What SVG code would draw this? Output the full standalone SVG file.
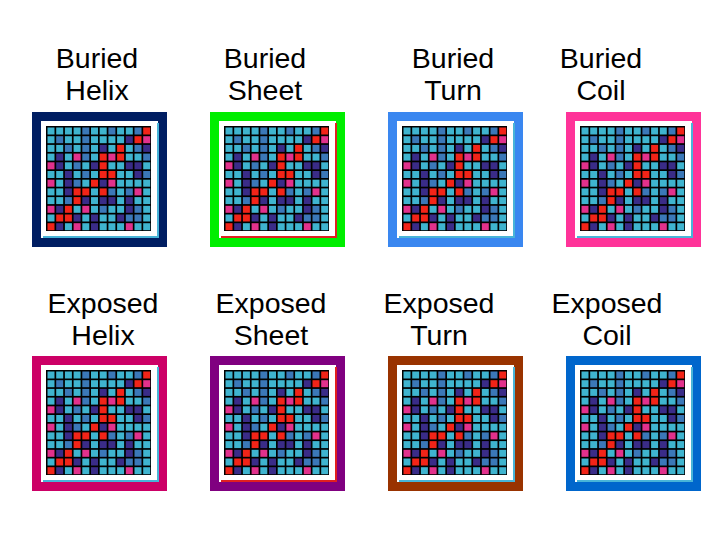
<svg xmlns="http://www.w3.org/2000/svg" xmlns:xlink="http://www.w3.org/1999/xlink" width="720" height="540" viewBox="0 0 720 540">
<style>
text{font-family:"Liberation Sans",Arial,sans-serif;font-size:28.5px;text-anchor:middle;fill:#000}
.c{fill:#3fb4cf}.b{fill:#3b78b8}.n{fill:#3a2c88}.r{fill:#f22418}.m{fill:#e2318c}
</style>
<rect width="720" height="540" fill="#fff"/>
<defs>
<g id="panel">
<rect x="9" y="9" width="117" height="117" fill="#fff"/>
<g transform="translate(14,14)">
<rect width="105" height="105" fill="#000"/>
<g transform="translate(1.5,1.5)">
<rect class="c" x="0" y="0" width="7" height="7"/><rect class="c" x="8.7" y="0" width="7" height="7"/><rect class="c" x="17.4" y="0" width="7" height="7"/><rect class="c" x="26.1" y="0" width="7" height="7"/><rect class="b" x="34.8" y="0" width="7" height="7"/><rect class="c" x="43.5" y="0" width="7" height="7"/><rect class="c" x="52.2" y="0" width="7" height="7"/><rect class="b" x="60.9" y="0" width="7" height="7"/><rect class="c" x="69.6" y="0" width="7" height="7"/><rect class="c" x="78.3" y="0" width="7" height="7"/><rect class="b" x="87" y="0" width="7" height="7"/><rect class="r" x="95.7" y="0" width="7" height="7"/>
<rect class="c" x="0" y="8.7" width="7" height="7"/><rect class="b" x="8.7" y="8.7" width="7" height="7"/><rect class="c" x="17.4" y="8.7" width="7" height="7"/><rect class="c" x="26.1" y="8.7" width="7" height="7"/><rect class="b" x="34.8" y="8.7" width="7" height="7"/><rect class="c" x="43.5" y="8.7" width="7" height="7"/><rect class="c" x="52.2" y="8.7" width="7" height="7"/><rect class="c" x="60.9" y="8.7" width="7" height="7"/><rect class="c" x="69.6" y="8.7" width="7" height="7"/><rect class="n" x="78.3" y="8.7" width="7" height="7"/><rect class="r" x="87" y="8.7" width="7" height="7"/><rect class="m" x="95.7" y="8.7" width="7" height="7"/>
<rect class="c" x="0" y="17.4" width="7" height="7"/><rect class="c" x="8.7" y="17.4" width="7" height="7"/><rect class="b" x="17.4" y="17.4" width="7" height="7"/><rect class="c" x="26.1" y="17.4" width="7" height="7"/><rect class="b" x="34.8" y="17.4" width="7" height="7"/><rect class="c" x="43.5" y="17.4" width="7" height="7"/><rect class="n" x="52.2" y="17.4" width="7" height="7"/><rect class="c" x="60.9" y="17.4" width="7" height="7"/><rect class="r" x="69.6" y="17.4" width="7" height="7"/><rect class="c" x="78.3" y="17.4" width="7" height="7"/><rect class="b" x="87" y="17.4" width="7" height="7"/><rect class="n" x="95.7" y="17.4" width="7" height="7"/>
<rect class="c" x="0" y="26.1" width="7" height="7"/><rect class="n" x="8.7" y="26.1" width="7" height="7"/><rect class="c" x="17.4" y="26.1" width="7" height="7"/><rect class="m" x="26.1" y="26.1" width="7" height="7"/><rect class="b" x="34.8" y="26.1" width="7" height="7"/><rect class="c" x="43.5" y="26.1" width="7" height="7"/><rect class="r" x="52.2" y="26.1" width="7" height="7"/><rect class="m" x="60.9" y="26.1" width="7" height="7"/><rect class="r" x="69.6" y="26.1" width="7" height="7"/><rect class="c" x="78.3" y="26.1" width="7" height="7"/><rect class="c" x="87" y="26.1" width="7" height="7"/><rect class="b" x="95.7" y="26.1" width="7" height="7"/>
<rect class="m" x="0" y="34.8" width="7" height="7"/><rect class="n" x="8.7" y="34.8" width="7" height="7"/><rect class="c" x="17.4" y="34.8" width="7" height="7"/><rect class="b" x="26.1" y="34.8" width="7" height="7"/><rect class="c" x="34.8" y="34.8" width="7" height="7"/><rect class="n" x="43.5" y="34.8" width="7" height="7"/><rect class="r" x="52.2" y="34.8" width="7" height="7"/><rect class="c" x="60.9" y="34.8" width="7" height="7"/><rect class="c" x="69.6" y="34.8" width="7" height="7"/><rect class="n" x="78.3" y="34.8" width="7" height="7"/><rect class="n" x="87" y="34.8" width="7" height="7"/><rect class="c" x="95.7" y="34.8" width="7" height="7"/>
<rect class="c" x="0" y="43.5" width="7" height="7"/><rect class="c" x="8.7" y="43.5" width="7" height="7"/><rect class="n" x="17.4" y="43.5" width="7" height="7"/><rect class="c" x="26.1" y="43.5" width="7" height="7"/><rect class="b" x="34.8" y="43.5" width="7" height="7"/><rect class="c" x="43.5" y="43.5" width="7" height="7"/><rect class="r" x="52.2" y="43.5" width="7" height="7"/><rect class="r" x="60.9" y="43.5" width="7" height="7"/><rect class="c" x="69.6" y="43.5" width="7" height="7"/><rect class="c" x="78.3" y="43.5" width="7" height="7"/><rect class="n" x="87" y="43.5" width="7" height="7"/><rect class="b" x="95.7" y="43.5" width="7" height="7"/>
<rect class="m" x="0" y="52.2" width="7" height="7"/><rect class="c" x="8.7" y="52.2" width="7" height="7"/><rect class="n" x="17.4" y="52.2" width="7" height="7"/><rect class="b" x="26.1" y="52.2" width="7" height="7"/><rect class="c" x="34.8" y="52.2" width="7" height="7"/><rect class="r" x="43.5" y="52.2" width="7" height="7"/><rect class="n" x="52.2" y="52.2" width="7" height="7"/><rect class="m" x="60.9" y="52.2" width="7" height="7"/><rect class="c" x="69.6" y="52.2" width="7" height="7"/><rect class="c" x="78.3" y="52.2" width="7" height="7"/><rect class="c" x="87" y="52.2" width="7" height="7"/><rect class="c" x="95.7" y="52.2" width="7" height="7"/>
<rect class="c" x="0" y="60.9" width="7" height="7"/><rect class="c" x="8.7" y="60.9" width="7" height="7"/><rect class="n" x="17.4" y="60.9" width="7" height="7"/><rect class="r" x="26.1" y="60.9" width="7" height="7"/><rect class="r" x="34.8" y="60.9" width="7" height="7"/><rect class="c" x="43.5" y="60.9" width="7" height="7"/><rect class="r" x="52.2" y="60.9" width="7" height="7"/><rect class="b" x="60.9" y="60.9" width="7" height="7"/><rect class="c" x="69.6" y="60.9" width="7" height="7"/><rect class="b" x="78.3" y="60.9" width="7" height="7"/><rect class="m" x="87" y="60.9" width="7" height="7"/><rect class="c" x="95.7" y="60.9" width="7" height="7"/>
<rect class="c" x="0" y="69.6" width="7" height="7"/><rect class="c" x="8.7" y="69.6" width="7" height="7"/><rect class="b" x="17.4" y="69.6" width="7" height="7"/><rect class="r" x="26.1" y="69.6" width="7" height="7"/><rect class="n" x="34.8" y="69.6" width="7" height="7"/><rect class="c" x="43.5" y="69.6" width="7" height="7"/><rect class="n" x="52.2" y="69.6" width="7" height="7"/><rect class="n" x="60.9" y="69.6" width="7" height="7"/><rect class="c" x="69.6" y="69.6" width="7" height="7"/><rect class="n" x="78.3" y="69.6" width="7" height="7"/><rect class="c" x="87" y="69.6" width="7" height="7"/><rect class="c" x="95.7" y="69.6" width="7" height="7"/>
<rect class="m" x="0" y="78.3" width="7" height="7"/><rect class="n" x="8.7" y="78.3" width="7" height="7"/><rect class="r" x="17.4" y="78.3" width="7" height="7"/><rect class="c" x="26.1" y="78.3" width="7" height="7"/><rect class="m" x="34.8" y="78.3" width="7" height="7"/><rect class="c" x="43.5" y="78.3" width="7" height="7"/><rect class="b" x="52.2" y="78.3" width="7" height="7"/><rect class="c" x="60.9" y="78.3" width="7" height="7"/><rect class="c" x="69.6" y="78.3" width="7" height="7"/><rect class="n" x="78.3" y="78.3" width="7" height="7"/><rect class="b" x="87" y="78.3" width="7" height="7"/><rect class="c" x="95.7" y="78.3" width="7" height="7"/>
<rect class="c" x="0" y="87" width="7" height="7"/><rect class="r" x="8.7" y="87" width="7" height="7"/><rect class="r" x="17.4" y="87" width="7" height="7"/><rect class="n" x="26.1" y="87" width="7" height="7"/><rect class="c" x="34.8" y="87" width="7" height="7"/><rect class="n" x="43.5" y="87" width="7" height="7"/><rect class="c" x="52.2" y="87" width="7" height="7"/><rect class="c" x="60.9" y="87" width="7" height="7"/><rect class="n" x="69.6" y="87" width="7" height="7"/><rect class="b" x="78.3" y="87" width="7" height="7"/><rect class="b" x="87" y="87" width="7" height="7"/><rect class="c" x="95.7" y="87" width="7" height="7"/>
<rect class="r" x="0" y="95.7" width="7" height="7"/><rect class="n" x="8.7" y="95.7" width="7" height="7"/><rect class="c" x="17.4" y="95.7" width="7" height="7"/><rect class="m" x="26.1" y="95.7" width="7" height="7"/><rect class="c" x="34.8" y="95.7" width="7" height="7"/><rect class="n" x="43.5" y="95.7" width="7" height="7"/><rect class="c" x="52.2" y="95.7" width="7" height="7"/><rect class="c" x="60.9" y="95.7" width="7" height="7"/><rect class="c" x="69.6" y="95.7" width="7" height="7"/><rect class="m" x="78.3" y="95.7" width="7" height="7"/><rect class="c" x="87" y="95.7" width="7" height="7"/><rect class="c" x="95.7" y="95.7" width="7" height="7"/>
</g>
</g>
</g>
</defs>
<g id="buried-helix"><text x="97" y="68">Buried</text><text x="97" y="100">Helix</text><rect x="32" y="112" width="135" height="135" fill="#001e62"/><use xlink:href="#panel" x="32" y="112"/><path d="M158 123V237H43" fill="none" stroke="#48b4d8" stroke-width="2"/></g>
<g id="buried-sheet"><text x="265" y="68">Buried</text><text x="265" y="100">Sheet</text><rect x="210" y="112" width="135" height="135" fill="#00ee00"/><use xlink:href="#panel" x="210" y="112"/><path d="M336 123V237H221" fill="none" stroke="#e02020" stroke-width="2"/></g>
<g id="buried-turn"><text x="453" y="68">Buried</text><text x="453" y="100">Turn</text><rect x="388" y="112" width="135" height="135" fill="#3a87f0"/><use xlink:href="#panel" x="388" y="112"/><path d="M514 123V237H399" fill="none" stroke="#48b4d8" stroke-width="2"/></g>
<g id="buried-coil"><text x="601" y="68">Buried</text><text x="601" y="100">Coil</text><rect x="566" y="112" width="135" height="135" fill="#ff3399"/><use xlink:href="#panel" x="566" y="112"/><path d="M692 123V237H577" fill="none" stroke="#48b4d8" stroke-width="2"/></g>
<g id="exposed-helix"><text x="103" y="313">Exposed</text><text x="103" y="345">Helix</text><rect x="32" y="356" width="135" height="135" fill="#cc0066"/><use xlink:href="#panel" x="32" y="356"/><path d="M158 367V481H43" fill="none" stroke="#48b4d8" stroke-width="2"/></g>
<g id="exposed-sheet"><text x="271" y="313">Exposed</text><text x="271" y="345">Sheet</text><rect x="210" y="356" width="135" height="135" fill="#800080"/><use xlink:href="#panel" x="210" y="356"/><path d="M336 367V481H221" fill="none" stroke="#e02020" stroke-width="2"/></g>
<g id="exposed-turn"><text x="439" y="313">Exposed</text><text x="439" y="345">Turn</text><rect x="388" y="356" width="135" height="135" fill="#993300"/><use xlink:href="#panel" x="388" y="356"/><path d="M514 367V481H399" fill="none" stroke="#48b4d8" stroke-width="2"/></g>
<g id="exposed-coil"><text x="607" y="313">Exposed</text><text x="607" y="345">Coil</text><rect x="566" y="356" width="135" height="135" fill="#0066cc"/><use xlink:href="#panel" x="566" y="356"/><path d="M692 367V481H577" fill="none" stroke="#48b4d8" stroke-width="2"/></g>
<g id="connectors"></g>
</svg>
